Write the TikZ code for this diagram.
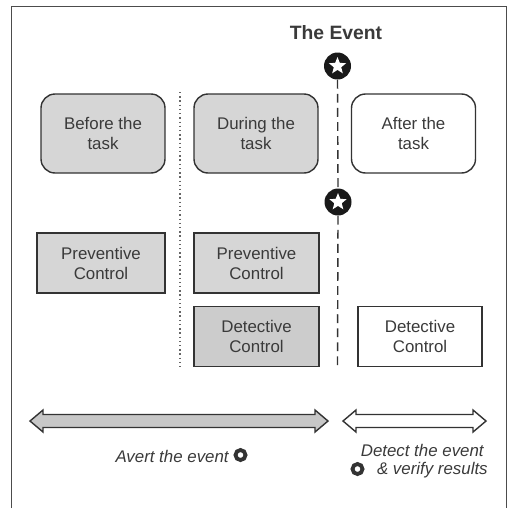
\documentclass[tikz,border=0pt]{standalone}
\usepackage{fontspec}
\setmainfont{Liberation Sans}
\usetikzlibrary{shapes.geometric}
\definecolor{linec}{HTML}{333333}
\definecolor{textc}{HTML}{3A3A3A}
\definecolor{boxfill}{HTML}{D6D6D6}
\begin{document}
\begin{tikzpicture}[x=0.02cm,y=-0.02cm,
  every node/.style={text=textc, font=\fontsize{9.6}{11.4}\selectfont, align=center},
  phase/.style={draw=linec, line width=0.8pt, rounded corners=0.28cm, minimum width=2.48cm, minimum height=1.58cm, inner sep=0pt},
  ctrl/.style={draw=linec, line width=0.8pt, minimum height=1.2cm, inner sep=0pt},
  gray/.style={fill=boxfill},
  evt/.style={circle, fill=black!90, minimum size=0.54cm, inner sep=0pt},
  evtstar/.style={star, star points=5, star point ratio=2.3, fill=white, minimum size=0.36cm, inner sep=0pt},
  mini/.style={circle, draw=black!80, line width=2.2pt, fill=white, minimum size=0.2cm, inner sep=0pt},
  dblarrow/.style={draw=linec, line width=0.8pt, line join=miter},
  note/.style={font=\fontsize{9.6}{11.4}\selectfont\itshape}]
\useasboundingbox (0,0) rectangle (509,508);
% frame
\draw[draw=black!70, line width=0.6pt] (11.5,508) -- (11.5,6.8) -- (506.5,6.8) -- (506.5,508);

% title
\node[font=\fontsize{11}{13}\selectfont\bfseries] (title) at (336,33) {The Event};

% phases
\node[phase, gray] (before) at (103,133.5) {Before the\\task};
\node[phase, gray] (during) at (256,133.5) {During the\\task};
\node[phase] (after) at (413.5,133.5) {After the\\task};

% controls
\node[ctrl, gray, minimum width=2.56cm] (prev1) at (101,263) {Preventive\\Control};
\node[ctrl, gray, minimum width=2.5cm] (prev2) at (256.5,263) {Preventive\\Control};
\node[ctrl, gray, minimum width=2.5cm, fill=black!20] (det2) at (256.5,336.5) {Detective\\Control};
\node[ctrl, minimum width=2.48cm] (det3) at (420,336.5) {Detective\\Control};

% event markers and timeline
\node[evt] (ev1) at (337.5,66) {};
\node[evtstar] (ev1s) at (ev1) {};
\node[evt] (ev2) at (338,202) {};
\node[evtstar] (ev2s) at (ev2) {};
\coordinate (evend) at (337.5,366);
\draw[linec, line width=0.8pt, dash pattern=on 5pt off 3pt] (ev1.south) -- (ev2.north);
\draw[linec, line width=0.8pt, dash pattern=on 5pt off 3pt] (ev2.south) -- (evend);

% dotted divider
\coordinate (dtop) at (180,92);
\coordinate (dbot) at (180,367);
\draw[black!60, line width=0.7pt, dash pattern=on 0.8pt off 1.6pt] (dtop) -- (dbot);

% double arrows
\draw[dblarrow, fill=black!22] (30,421) -- (43,410) -- (43,414.5) -- (315,414.5) -- (315,410) -- (328,421)
  -- (315,432) -- (315,427.5) -- (43,427.5) -- (43,432) -- cycle;
\draw[dblarrow, fill=white] (343,421) -- (356,410) -- (356,414.5) -- (473,414.5) -- (473,410) -- (486,421)
  -- (473,432) -- (473,427.5) -- (356,427.5) -- (356,432) -- cycle;

% notes
\node[note, anchor=east, inner sep=0pt] (avert) at (229,456) {Avert the event};
\node[mini] (avertm) at (240.5,455) {};
\node[note, anchor=east, inner sep=0pt] (detect) at (484,450) {Detect the event};
\node[note, anchor=east, inner sep=0pt] (verify) at (488,470) {\& verify results};
\node[mini] (verifym) at (357.5,469) {};
\end{tikzpicture}
\end{document}
